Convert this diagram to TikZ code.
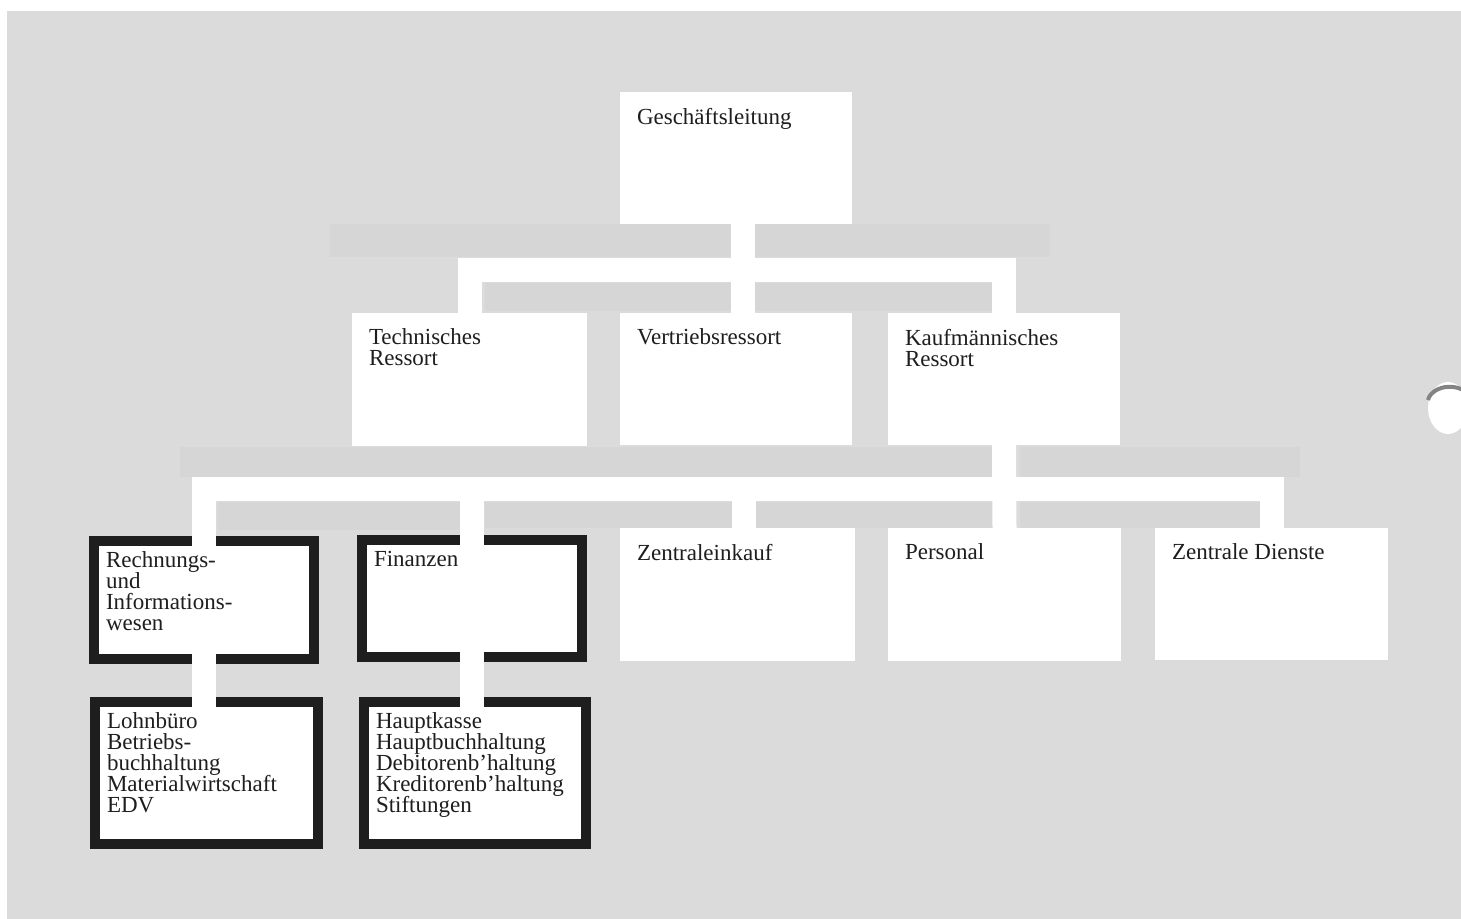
\documentclass[tikz,border=0pt]{standalone}
\usepackage{fontspec}
\setmainfont{Liberation Serif}
\definecolor{bgcol}{HTML}{DBDBDB}
\definecolor{bandcol}{HTML}{D6D6D6}
\definecolor{ink}{HTML}{1E1E1E}
\tikzset{
  wbox/.style={fill=white, draw=none, inner sep=0pt, outer sep=0pt, anchor=north west},
  bbox/.style={fill=white, draw=ink, line width=5pt, inner sep=0pt, outer sep=2.5pt, anchor=north west},
  lbl/.style={anchor=north west, inner sep=0pt, outer sep=0pt, xshift=8.5pt, yshift=-8pt,
    align=left, text=ink, font={\fontsize{11.5pt}{10.5pt}\selectfont\lineskiplimit=-20pt\lineskip=0pt}},
  conn/.style={draw=white, line width=12pt, line cap=butt, line join=miter},
  band/.style={fill=bandcol, draw=none}
}
\begin{document}
\begin{tikzpicture}[x=0.5pt, y=-0.5pt]
\useasboundingbox (0,0) rectangle (1461,919);
\fill[white] (0,0) rectangle (1461,919);
\fill[bgcol] (7,11) rectangle (1461,919);
% darker print bands
\fill[band] (330,224) rectangle (737,257);
\fill[band] (750,224) rectangle (1050,257);
\fill[band] (485,283) rectangle (737,311);
\fill[band] (750,283) rectangle (995,311);
\fill[band] (180,447) rectangle (995,477);
\fill[band] (1020,447) rectangle (1300,477);
\fill[band] (218,502) rectangle (460,530);
\fill[band] (485,502) rectangle (737,528);
\fill[band] (750,502) rectangle (995,528);
\fill[band] (1020,502) rectangle (1260,528);
% punched hole
\fill[white] (1448,408) ellipse [x radius=20, y radius=26];
\draw[ink!55, line width=2pt] (1428,400) arc [start angle=190, end angle=320, x radius=22, y radius=16];

% level 1
\node[wbox, minimum width=116pt, minimum height=66pt, label={[lbl]north west:Geschäftsleitung}] (g) at (620,92) {};
% level 2
\node[wbox, minimum width=117.5pt, minimum height=66.5pt, label={[lbl]north west:Technisches\\Ressort}] (t) at (352,313) {};
\node[wbox, minimum width=116pt, minimum height=66pt, label={[lbl]north west:Vertriebsressort}] (v) at (620,313) {};
\node[wbox, minimum width=116pt, minimum height=66pt, label={[lbl]north west:Kaufmännisches\\Ressort}] (k) at (888,313) {};
% level 3
\node[bbox, minimum width=110pt, minimum height=59pt, label={[lbl]north west:Rechnungs-\\und\\Informations-\\wesen}] (r) at (89,536) {};
\node[bbox, minimum width=110pt, minimum height=58.5pt, label={[lbl]north west:Finanzen}] (f) at (357,535) {};
\node[wbox, minimum width=117.5pt, minimum height=66.5pt, label={[lbl]north west:Zentraleinkauf}] (z) at (620,528) {};
\node[wbox, minimum width=116.5pt, minimum height=66.5pt, label={[lbl]north west:Personal}] (p) at (888,528) {};
\node[wbox, minimum width=116.5pt, minimum height=66pt, label={[lbl]north west:Zentrale Dienste}] (zd) at (1155,528) {};
% level 4
\node[bbox, minimum width=111.5pt, minimum height=71pt, label={[lbl]north west:Lohnbüro\\Betriebs-\\buchhaltung\\Materialwirtschaft\\EDV}] (l) at (90,697) {};
\node[bbox, minimum width=111pt, minimum height=71pt, label={[lbl]north west:Hauptkasse\\Hauptbuchhaltung\\Debitorenb'haltung\\Kreditorenb'haltung\\Stiftungen}] (h) at (359,697) {};

% connectors
\coordinate (b1) at (0,270);
\coordinate (b2) at (0,489);
\draw[conn] (t.north) |- (b1 -| k.north) -- (k.north);
\draw[conn] ([xshift=3.5pt]g.south) -- ([xshift=3.5pt]v.north);
\draw[conn, shorten <=-5pt] (r.north) |- (b2 -| zd.north) -- (zd.north);
\draw[conn] (k.south) -- (p.north);
\draw[conn, shorten <=-5pt] (f.north) -- (f.north |- b2);
\draw[conn] ([xshift=3pt]z.north) -- ([xshift=3pt]z.north |- b2);
\draw[conn, shorten <=-5pt, shorten >=-5pt] (r.south) -- (r.south |- l.north);
\draw[conn, shorten <=-5pt, shorten >=-5pt] (f.south) -- (f.south |- h.north);
\end{tikzpicture}
\end{document}
